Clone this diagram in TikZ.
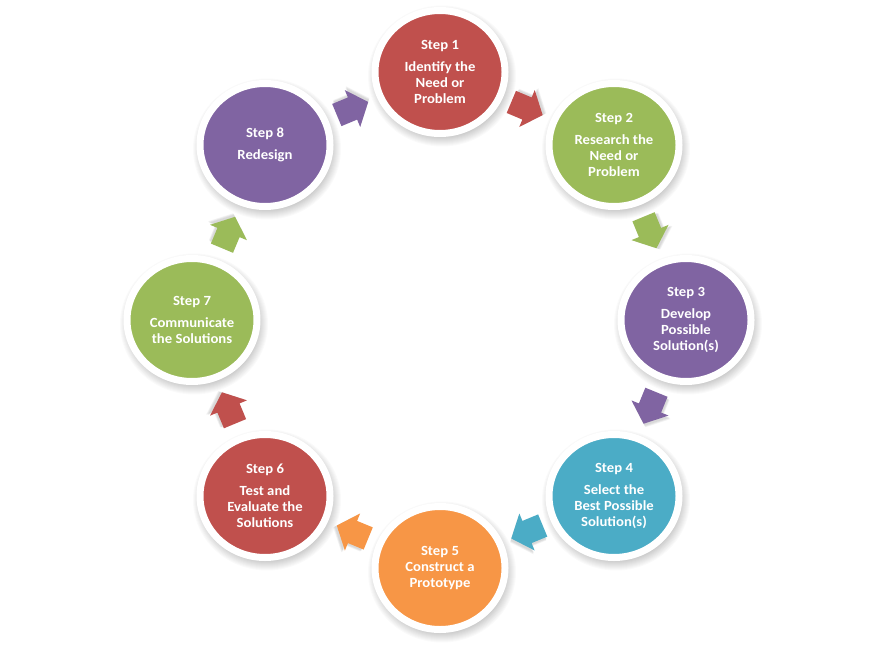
\documentclass[tikz,border=0pt]{standalone}
\usepackage{fontspec}
\setmainfont{Carlito}[FakeStretch=1.05]
\usetikzlibrary{calc,shapes.geometric}
\definecolor{cred}{HTML}{C0504D}
\definecolor{cgreen}{HTML}{9BBB59}
\definecolor{cpurple}{HTML}{8064A2}
\definecolor{cblue}{HTML}{4BACC6}
\definecolor{corange}{HTML}{F79646}
\tikzset{
  stepdisk/.style={ellipse, fill=#1, draw=white, line width=7pt, minimum width=130pt,
    minimum height=123pt, inner sep=0pt, text=white, align=center,
    font=\bfseries\fontsize{14}{16}\selectfont},
}
\newcommand\stepshadow[2]{%
  \foreach \k in {0,...,9} {\fill[black, opacity=0.02] (#1+2,#2+4) ellipse ({65+\k} and {61.5+\k});}}
\newcommand\cyclearrow[3]{%
  \path let \p1=($(#2)-(#1)$), \n1={atan2(\y1,\x1)} in \pgfextra{\xdef\arrang{\n1}};
  \begin{scope}[shift={($(#1)!0.5!(#2)$)}, rotate=\arrang]
    \foreach \s in {1,2,3} {\fill[black, opacity=0.05, shift={(1+0.5*\s,-1-0.7*\s)}]
      (-17,-12) -- (0,-12) -- (0,-20) -- (17,0) -- (0,20) -- (0,12) -- (-17,12) -- cycle;}
    \fill[#3] (-17,-12) -- (0,-12) -- (0,-20) -- (17,0) -- (0,20) -- (0,12) -- (-17,12) -- cycle;
  \end{scope}}
\begin{document}
\begin{tikzpicture}[x=1pt, y=-1pt]
\useasboundingbox (0,0) rectangle (877,647);
\fill[white] (0,0) rectangle (877,647);
\stepshadow{440}{72}
\stepshadow{614}{145}
\stepshadow{686}{320}
\stepshadow{614}{496}
\stepshadow{440}{568}
\stepshadow{265}{496}
\stepshadow{192}{320}
\stepshadow{265}{145}
\node[stepdisk=cred]    (s1) at (440,72)  {Step 1\\[6pt]Identify the\\Need or\\Problem};
\node[stepdisk=cgreen]  (s2) at (614,145) {Step 2\\[6pt]Research the\\Need or\\Problem};
\node[stepdisk=cpurple] (s3) at (686,320) {Step 3\\[6pt]Develop\\Possible\\Solution(s)};
\node[stepdisk=cblue]   (s4) at (614,496) {Step 4\\[6pt]Select the\\Best Possible\\Solution(s)};
\node[stepdisk=corange] (s5) at (440,568) {Step 5\\Construct a\\Prototype};
\node[stepdisk=cred]    (s6) at (265,496) {Step 6\\[6pt]Test and\\Evaluate the\\Solutions};
\node[stepdisk=cgreen]  (s7) at (192,320) {Step 7\\[6pt]Communicate\\the Solutions};
\node[stepdisk=cpurple] (s8) at (265,145) {Step 8\\[6pt]Redesign};
\cyclearrow{s8}{s1}{cpurple}
\cyclearrow{s1}{s2}{cred}
\cyclearrow{s2}{s3}{cgreen}
\cyclearrow{s3}{s4}{cpurple}
\cyclearrow{s4}{s5}{cblue}
\cyclearrow{s5}{s6}{corange}
\cyclearrow{s6}{s7}{cred}
\cyclearrow{s7}{s8}{cgreen}
\end{tikzpicture}
\end{document}
